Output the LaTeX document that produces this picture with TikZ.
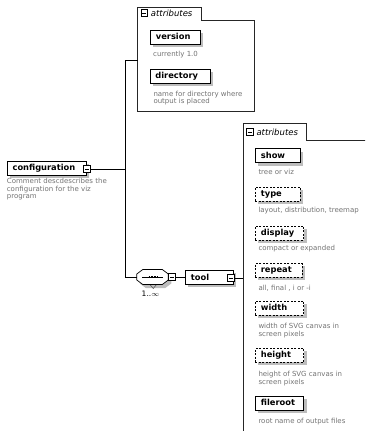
\documentclass[tikz,border=0pt]{standalone}
\usepackage{fontspec}
\setmainfont{DejaVu Sans}
\usetikzlibrary{shadows}
\definecolor{desccol}{gray}{0.45}
\definecolor{shadcol}{gray}{0.74}
\tikzset{
  elem/.style={draw=black, line width=0.8pt, fill=white, anchor=north west,
    inner xsep=5.5pt, inner ysep=0pt, minimum height=14pt, align=left,
    font=\fontsize{8.3}{9}\selectfont\bfseries,
    general shadow={fill=shadcol, shadow xshift=3pt, shadow yshift=-3pt}},
  opt/.style={dash pattern=on 2pt off 1.5pt},
  minus/.style={draw=black, line width=0.6pt, fill=white, minimum size=6.7pt, inner sep=0pt,
    path picture={\draw[line width=0.6pt] ([xshift=1.3pt]path picture bounding box.west) -- ([xshift=-1.3pt]path picture bounding box.east);}},
  desc/.style={anchor=north west, inner sep=0pt, align=left, text=desccol,
    font=\fontsize{7}{7.7}\selectfont},
  grp/.style={draw=black!85, line width=0.6pt},
  tabtext/.style={anchor=west, inner sep=0pt, font=\fontsize{8.5}{9}\selectfont\itshape},
  conn/.style={draw=black, line width=0.6pt},
}
\begin{document}
\begin{tikzpicture}[x=1pt,y=-1pt]
\useasboundingbox (0,0) rectangle (365,431);
\clip (0,0) rectangle (365,431);

% ---------- group box 1 ----------
\draw[grp, fill=white] (137.7,111) -- (137.7,7.3) -- (201.7,7.3) -- (201.7,20) -- (254,20) -- (254,111) -- cycle;
\node[minus] (t1m) at (144.3,12.8) {};
\node[tabtext] (t1t) at (150.7,13.3) {attributes};
\coordinate (g1) at (137.7,60);

\node[elem, text width=39pt] (version) at (150,29.5) {version};
\node[desc] (dversion) at (153,50.8) {currently 1.0};
\node[elem, text width=49.5pt] (directory) at (149.5,68.5) {directory};
\node[desc] (ddirectory) at (153.3,90.6) {name for directory where\\output is placed};

% ---------- group box 2 ----------
\draw[grp, fill=white] (243.3,440) -- (243.3,123.3) -- (306.7,123.3) -- (306.7,140) -- (370,140);
\node[minus] (t2m) at (249.9,131.8) {};
\node[tabtext] (t2t) at (256.3,132.3) {attributes};
\coordinate (g2) at (243.3,0);

\node[elem, text width=34pt] (show) at (255,148.3) {show};
\node[desc] (dshow) at (258.3,169) {tree or viz};
\node[elem, opt, text width=34pt] (type) at (255,187) {type};
\node[desc] (dtype) at (258.3,207) {layout, distribution, treemap};
\node[elem, opt, text width=37.3pt] (display) at (255,225.5) {display};
\node[desc] (ddisplay) at (258.3,245.3) {compact or expanded};
\node[elem, opt, text width=35.7pt] (repeat) at (255,263) {repeat};
\node[desc] (drepeat) at (258.3,284.6) {all, final , i or -i};
\node[elem, opt, text width=37.3pt] (width) at (255,300.5) {width};
\node[desc] (dwidth) at (258.3,323) {width of SVG canvas in\\screen pixels};
\node[elem, opt, text width=37.3pt] (height) at (255,348) {height};
\node[desc] (dheight) at (258.3,371.3) {height of SVG canvas in\\screen pixels};
\node[elem, text width=37.3pt] (fileroot) at (255,395.5) {fileroot};
\node[desc] (dfileroot) at (258.3,418) {root name of output files};

% ---------- configuration ----------
\node[elem, text width=68.3pt] (cfg) at (6.7,160.5) {configuration};
\node[minus] (cfgm) at ([yshift=-1.2pt]cfg.east) {};
\node[desc] (dcfg) at (6.7,178) {Comment descdescribes the\\configuration for the viz\\program};

% ---------- sequence ----------
\node[minimum width=31.5pt, minimum height=15pt, inner sep=0pt] (seq) at (152.75,277) {};
\fill[shadcol] ([shift={(3,3.5)}]seq.west) ++(0,-3) -- ++(6,-4.5) -- ++(19.5,0) -- ++(6,4.5) -- ++(0,6) -- ++(-6,4.5) -- ++(-19.5,0) -- ++(-6,-4.5) -- cycle;
\draw[black!70, line width=0.5pt] ([shift={(-2.5,0.2)}]seq.south) -- ([shift={(0.5,3.8)}]seq.south) -- ([shift={(3.5,0.2)}]seq.south);
\draw[line width=0.7pt, fill=white] (seq.west) ++(0,-3) -- ++(6,-4.5) -- ++(19.5,0) -- ++(6,4.5) -- ++(0,6) -- ++(-6,4.5) -- ++(-19.5,0) -- ++(-6,-4.5) -- cycle;
\draw[line width=0.6pt] ([xshift=5.5pt]seq.west) -- ([xshift=-5.5pt]seq.east);
\draw[line width=1.7pt, dash pattern=on 1.6pt off 1.1pt] ([xshift=-4.2pt]seq.center) -- ([xshift=4.6pt]seq.center);
\node[minus] (seqm) at ([xshift=3.35pt]seq.east) {};
\node[inner sep=0pt, font=\fontsize{7.5}{8}\selectfont] (card) at (150.5,293.5) {1..$\infty$};

% ---------- tool ----------
\node[elem, text width=37pt] (tool) at (185,269.8) {tool};
\node[minus] (toolm) at ([xshift=-3pt,yshift=-0.6pt]tool.east) {};

% ---------- connectors ----------
\coordinate (busT) at (125,60);
\draw[conn] (cfgm.east) -- (cfgm.east -| busT);
\draw[conn] (g1) -- (busT) -- (busT |- seq.west) -- (seq.west);
\draw[conn] (seqm.east) -- (seqm.east -| tool.west);
\draw[conn] (toolm.east) -- (toolm.east -| g2);
\end{tikzpicture}
\end{document}
